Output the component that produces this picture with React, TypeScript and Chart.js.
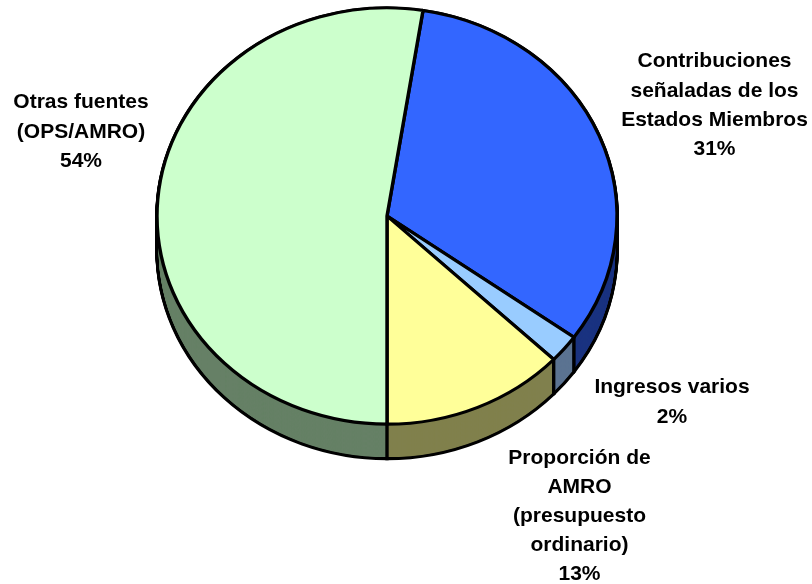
import React, { useEffect, useRef } from "react";
import { Chart, registerables } from "chart.js";

Chart.register(...registerables);

const categories = [
  "Contribuciones señaladas de los Estados Miembros",
  "Ingresos varios",
  "Proporción de AMRO (presupuesto ordinario)",
  "Otras fuentes (OPS/AMRO)",
];
const sliceValues = [32.4, 2.2, 12.9, 52.5];
const labelLines = [
  ["Contribuciones", "señaladas de los", "Estados Miembros", "31%"],
  ["Ingresos varios", "2%"],
  ["Proporción de", "AMRO", "(presupuesto", "ordinario)", "13%"],
  ["Otras fuentes", "(OPS/AMRO)", "54%"],
];
const topColors = ["#3366FF", "#99CCFF", "#FFFF99", "#CCFFCC"];
const sideColors = ["#1A3380", "#5B7391", "#80804D", "#668066"];

// Layout of the picture.
const WIDTH = 812;
const HEIGHT = 584;
const RADIUS = 230;
const SQUASH = 0.905;
const DEPTH = 34.5;
const labelAnchors = [
  { x: 714.5, y: 61.5, lead: 29.3 },
  { x: 672, y: 387.5, lead: 30 },
  { x: 579.5, y: 458, lead: 29 },
  { x: 81, y: 102.5, lead: 29.5 },
];

const squashAround = (ctx: CanvasRenderingContext2D, x: number, y: number) => {
  ctx.translate(x, y);
  ctx.scale(1, SQUASH);
  ctx.translate(-x, -y);
};

const tiltPlugin = {
  id: "tilt",
  beforeDatasetsDraw(chart: any) {
    const ctx: CanvasRenderingContext2D = chart.ctx;
    const arcs = chart.getDatasetMeta(0).data;
    const { x, y } = arcs[0];
    ctx.save();
    squashAround(ctx, x, y);
    const depth = DEPTH / SQUASH;

    const slice = (a: any, d: number, inset: number) => {
      ctx.beginPath();
      ctx.moveTo(a.x, a.y + d);
      ctx.arc(a.x, a.y + d, a.outerRadius - inset, a.startAngle, a.endAngle);
      ctx.closePath();
    };

    // silhouette of the wall
    ctx.fillStyle = "#000";
    ctx.strokeStyle = "#000";
    ctx.lineWidth = 3.4;
    for (let d = depth; d >= 0; d -= 1) {
      arcs.forEach((a: any) => {
        slice(a, d, 0);
        ctx.fill();
        ctx.stroke();
      });
    }
    // wall colours, kept inside the outline
    for (let d = depth; d >= 0; d -= 0.5) {
      arcs.forEach((a: any, i: number) => {
        ctx.fillStyle = sideColors[i];
        slice(a, d, 1.7);
        ctx.fill();
      });
    }
    // vertical edges between wall segments
    ctx.strokeStyle = "#000";
    ctx.lineWidth = 3.4;
    arcs.forEach((a: any) => {
      if (Math.sin(a.endAngle) > 0) {
        const ex = a.x + a.outerRadius * Math.cos(a.endAngle);
        const ey = a.y + a.outerRadius * Math.sin(a.endAngle);
        ctx.beginPath();
        ctx.moveTo(ex, ey);
        ctx.lineTo(ex, ey + depth);
        ctx.stroke();
      }
    });
  },
  afterDatasetsDraw(chart: any) {
    chart.ctx.restore();
  },
  afterDraw(chart: any) {
    const ctx: CanvasRenderingContext2D = chart.ctx;
    ctx.save();
    ctx.fillStyle = "#000";
    ctx.font = 'bold 21px "Liberation Sans", Arial, sans-serif';
    ctx.textAlign = "center";
    ctx.textBaseline = "middle";
    labelLines.forEach((lines, i) => {
      const { x, y, lead } = labelAnchors[i];
      lines.forEach((line, j) => ctx.fillText(line, x, y + j * lead));
    });
    ctx.restore();
  },
};

export default function App() {
  const ref = useRef<HTMLCanvasElement>(null);
  useEffect(() => {
    const chart = new Chart(ref.current!, {
      type: "pie",
      data: {
        labels: categories,
        datasets: [
          {
            data: sliceValues,
            backgroundColor: topColors,
            borderColor: "#000",
            borderWidth: 3.4,
            borderAlign: "center",
            borderJoinStyle: "round",
            radius: RADIUS,
          } as any,
        ],
      },
      options: {
        animation: false,
        responsive: false,
        rotation: 9,
        layout: { padding: { right: 38, bottom: 152 } },
        plugins: { legend: { display: false }, tooltip: { enabled: false } },
      } as any,
      plugins: [tiltPlugin],
    });
    return () => chart.destroy();
  }, []);
  return (
    <div style={{ position: "absolute", left: 0, top: 0, width: WIDTH, height: HEIGHT, background: "#fff" }}>
      <canvas ref={ref} width={WIDTH} height={HEIGHT} style={{ display: "block" }} />
    </div>
  );
}
